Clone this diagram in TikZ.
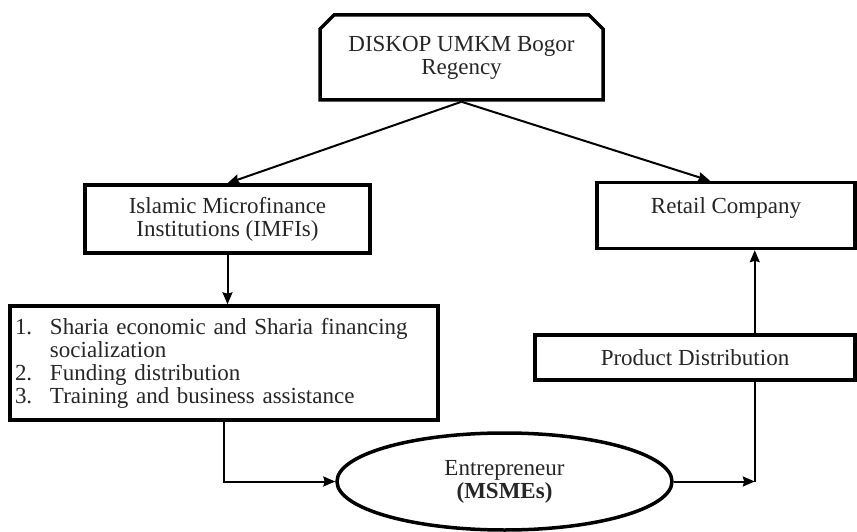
\documentclass[tikz,border=0pt]{standalone}
\usepackage{fontspec}
\setmainfont{Liberation Serif}
\usepackage{tikz}
\usetikzlibrary{shapes.geometric, shapes.misc, arrows.meta, positioning}
\tikzstyle{topbox} = [chamfered rectangle, chamfered rectangle corners={north west, north east}, chamfered rectangle xsep=7pt, chamfered rectangle ysep=7pt, minimum width=283pt, minimum height=85pt, align=center, draw=black, line width=3.5pt, text=black!85]
\tikzstyle{process} = [rectangle, align=center, draw=black, line width=3.5pt, text=black!85]
\tikzstyle{listbox} = [rectangle, align=left, text width=418pt, inner xsep=5pt, minimum height=114pt, draw=black, line width=3.5pt, text=black!85]
\tikzstyle{actor} = [ellipse, minimum width=335pt, minimum height=97pt, inner sep=0pt, align=center, draw=black, line width=3.5pt, text=black!85]
\tikzstyle{arrow} = [line width=2pt,->,>={Stealth[length=12pt,width=10pt,inset=1.5pt]}]
\tikzstyle{link} = [line width=2pt]
\newcommand{\itemno}[1]{\makebox[35pt][l]{#1}}

\begin{document}
\begin{tikzpicture}[x=1pt, y=1pt, node distance=140pt, font=\fontsize{23pt}{23pt}\selectfont]

        \useasboundingbox (0,0) rectangle (857,-532);

        \node (diskop) [topbox] at (461.5,-57.5) {DISKOP UMKM Bogor\\Regency};
        \node (imfi) [process, minimum width=285pt, minimum height=68pt, below of=diskop, xshift=-234pt, yshift=-21.5pt] {Islamic Microfinance\\Institutions (IMFIs)};
        \node (list) [listbox, below of=imfi, xshift=-3.5pt, yshift=-4pt] {\itemno{1.}Sharia economic and Sharia financing\\\hspace*{35pt}socialization\\\itemno{2.}Funding distribution\\\itemno{3.}Training and business assistance};
        \node (ent) [actor, below of=list, xshift=280.5pt, yshift=21.5pt] {Entrepreneur\\\textbf{(MSMEs)}};
        \node (retail) [process, minimum width=258pt, minimum height=66pt, text height=24pt, text depth=28pt, inner ysep=7pt, right of=imfi, xshift=358.5pt, yshift=3.5pt] {Retail Company};
        \node (pd) [process, minimum width=320pt, minimum height=45pt, below of=retail, xshift=-31pt, yshift=-2pt] {Product Distribution};
        \coordinate (bend) at ([xshift=81pt]ent.east);

        \draw [arrow] (diskop.south) -- (imfi.north);
        \draw [arrow] (diskop.south) -- ([xshift=-16pt]retail.north);
        \draw [arrow] (imfi.south) -- (imfi.south |- list.north);
        \draw [arrow] (list.south) |- (ent.west);
        \draw [arrow] (ent.east) -- (bend);
        \draw [link] (bend) -- (bend |- pd.south);
        \draw [arrow] (bend |- pd.north) -- (bend |- retail.south);

    \end{tikzpicture}
\end{document}
